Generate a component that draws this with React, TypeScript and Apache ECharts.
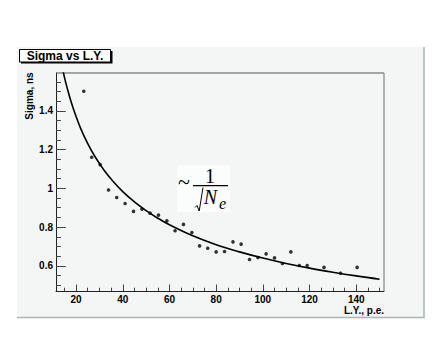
import React, { useEffect, useRef } from "react";
import * as echarts from "echarts";

// Measured points: light yield (p.e.) and sigma (ns)
const lightYield = [23.3, 26.7, 30.3, 33.9, 37.4, 41.0, 44.6, 48.2, 51.7, 55.3, 58.9, 62.4, 66.0, 69.6, 72.9, 76.4, 80.0, 83.6, 87.2, 90.7, 94.3, 97.9, 101.4, 105.0, 108.4, 112.0, 115.6, 119.0, 126.2, 133.3, 140.4];
const sigma = [1.502, 1.161, 1.123, 0.992, 0.953, 0.922, 0.881, 0.893, 0.872, 0.862, 0.832, 0.781, 0.814, 0.772, 0.703, 0.691, 0.672, 0.674, 0.724, 0.712, 0.633, 0.643, 0.662, 0.641, 0.612, 0.672, 0.602, 0.602, 0.592, 0.562, 0.592];

// Fit curve ~ 1/sqrt(Ne)
const fitX = [14, 15, 16, 18, 20, 22, 25, 28, 32, 36, 40, 45, 50, 55, 60, 70, 80, 90, 100, 110, 120, 130, 140, 150];
const fitY = [1.629, 1.575, 1.527, 1.442, 1.371, 1.309, 1.231, 1.166, 1.094, 1.034, 0.983, 0.93, 0.885, 0.846, 0.812, 0.755, 0.709, 0.672, 0.64, 0.612, 0.588, 0.567, 0.548, 0.531];

// Axis ranges and ticks
const X_MIN = 11.4;
const X_MAX = 151.9;
const Y_MIN = 0.47;
const Y_MAX = 1.596;
const xMajorTicks = [20, 40, 60, 80, 100, 120, 140];
const xMinorTicks = [15, 20, 25, 30, 35, 40, 45, 50, 55, 60, 65, 70, 75, 80, 85, 90, 95, 100, 105, 110, 115, 120, 125, 130, 135, 140, 145, 150];
const yMajorTicks = [0.6, 0.8, 1, 1.2, 1.4];
const yMinorTicks = [0.5, 0.55, 0.6, 0.65, 0.7, 0.75, 0.8, 0.85, 0.9, 0.95, 1, 1.05, 1.1, 1.15, 1.2, 1.25, 1.3, 1.35, 1.4, 1.45, 1.5, 1.55];

const TITLE = "Sigma vs L.Y.";
const Y_TITLE = "Sigma, ns";
const X_TITLE = "L.Y., p.e.";

const SANS = "'Liberation Sans', Arial, Helvetica, sans-serif";
const SERIF = "'Liberation Serif', 'Times New Roman', serif";

export default function App() {
  const ref = useRef<HTMLDivElement | null>(null);

  useEffect(() => {
    if (!ref.current) return;
    const chart = echarts.init(ref.current, undefined, { renderer: "svg" });

    const points = lightYield.map((x, i) => [x, sigma[i]]);
    const curve = fitX.map((x, i) => [x, fitY[i]]);

    const tickStyle = { color: "#444", width: 1 };
    const labelStyle = {
      color: "#000",
      fontWeight: "bold" as const,
      fontSize: 10,
      lineHeight: 10,
      fontFamily: SANS,
    };

    const option: any = {
      animation: false,
      backgroundColor: "#ffffff",
      grid: {
        left: 56,
        top: 73,
        width: 328,
        height: 218,
        containLabel: false,
        outerBoundsMode: "none",
      },
      xAxis: [
        {
          type: "value",
          min: X_MIN,
          max: X_MAX,
          position: "bottom",
          axisLine: { show: true, onZero: false, lineStyle: { color: "#222", width: 1 } },
          axisTick: { show: true, inside: true, length: 6.5, customValues: xMajorTicks, lineStyle: tickStyle },
          axisLabel: { show: true, customValues: xMajorTicks, margin: 3.5, formatter: (v: number) => String(v), ...labelStyle },
          splitLine: { show: false },
        },
        {
          type: "value",
          min: X_MIN,
          max: X_MAX,
          position: "bottom",
          axisLine: { show: false, onZero: false },
          axisTick: { show: true, inside: true, length: 3.3, customValues: xMinorTicks, lineStyle: tickStyle },
          axisLabel: { show: false },
          splitLine: { show: false },
        },
      ],
      yAxis: [
        {
          type: "value",
          min: Y_MIN,
          max: Y_MAX,
          position: "left",
          axisLine: { show: true, onZero: false, lineStyle: { color: "#222", width: 1 } },
          axisTick: { show: true, inside: true, length: 9.8, customValues: yMajorTicks, lineStyle: tickStyle },
          axisLabel: { show: true, customValues: yMajorTicks, margin: 3, formatter: (v: number) => String(v), ...labelStyle },
          splitLine: { show: false },
        },
        {
          type: "value",
          min: Y_MIN,
          max: Y_MAX,
          position: "left",
          axisLine: { show: false, onZero: false },
          axisTick: { show: true, inside: true, length: 4.9, customValues: yMinorTicks, lineStyle: tickStyle },
          axisLabel: { show: false },
          splitLine: { show: false },
        },
      ],
      series: [
        {
          type: "line",
          xAxisIndex: 0,
          yAxisIndex: 0,
          data: curve,
          smooth: 0.4,
          symbol: "none",
          clip: true,
          lineStyle: { color: "#000", width: 1.6 },
          z: 3,
        },
        {
          type: "scatter",
          xAxisIndex: 0,
          yAxisIndex: 0,
          data: points,
          symbol: "circle",
          symbolSize: 3.6,
          itemStyle: { color: "#000" },
          z: 4,
        },
      ],
      graphic: [
        // canvas panel
        {
          type: "rect",
          z: -100,
          shape: { x: 17, y: 47, width: 407, height: 271 },
          style: { fill: "#f4f6f6" },
        },
        {
          type: "line",
          z: -99,
          shape: { x1: 17, y1: 317.5, x2: 424.5, y2: 317.5 },
          style: { stroke: "#aab4b4", lineWidth: 1.5 },
        },
        {
          type: "line",
          z: -99,
          shape: { x1: 424, y1: 47, x2: 424, y2: 318 },
          style: { stroke: "#aab4b4", lineWidth: 1.5 },
        },
        // frame top and right
        {
          type: "line",
          z: 1,
          shape: { x1: 56, y1: 73, x2: 384, y2: 73 },
          style: { stroke: "#555", lineWidth: 1 },
        },
        {
          type: "line",
          z: 1,
          shape: { x1: 384, y1: 73, x2: 384, y2: 291 },
          style: { stroke: "#9a9a9a", lineWidth: 1.5 },
        },
        // title box with shadow
        {
          type: "rect",
          z: 10,
          shape: { x: 21, y: 51, width: 91.5, height: 12.5 },
          style: { fill: "#000" },
        },
        {
          type: "rect",
          z: 11,
          shape: { x: 19.5, y: 49.5, width: 91, height: 12.5 },
          style: { fill: "#fff", stroke: "#000", lineWidth: 1 },
        },
        {
          type: "text",
          z: 12,
          x: 65,
          y: 56,
          style: {
            text: TITLE,
            fill: "#000",
            fontSize: 12,
            lineHeight: 12,
            fontWeight: "bold",
            fontFamily: SANS,
            textAlign: "center",
            textVerticalAlign: "middle",
          },
        },
        // axis titles
        {
          type: "text",
          z: 12,
          x: 29,
          y: 96,
          rotation: Math.PI / 2,
          style: {
            text: Y_TITLE,
            fill: "#000",
            fontSize: 10,
            lineHeight: 10,
            fontWeight: "bold",
            fontFamily: SANS,
            textAlign: "center",
            textVerticalAlign: "middle",
          },
        },
        {
          type: "text",
          z: 12,
          x: 384,
          y: 310.5,
          style: {
            text: X_TITLE,
            fill: "#000",
            fontSize: 10,
            lineHeight: 10,
            fontWeight: "bold",
            fontFamily: SANS,
            textAlign: "right",
            textVerticalAlign: "middle",
          },
        },
        // formula ~ 1/sqrt(N_e)
        {
          type: "rect",
          z: 5,
          shape: { x: 177, y: 165, width: 53, height: 47 },
          style: { fill: "#fbfcfc" },
        },
        {
          type: "text",
          z: 6,
          x: 184,
          y: 181,
          style: {
            text: "~",
            fill: "#000",
            fontSize: 22,
            lineHeight: 12,
            fontFamily: SERIF,
            textAlign: "center",
            textVerticalAlign: "middle",
          },
        },
        {
          type: "text",
          z: 6,
          x: 210,
          y: 175.5,
          style: {
            text: "1",
            fill: "#000",
            fontSize: 20,
            lineHeight: 14,
            fontFamily: SERIF,
            textAlign: "center",
            textVerticalAlign: "middle",
          },
        },
        {
          type: "line",
          z: 6,
          shape: { x1: 193, y1: 185.7, x2: 228, y2: 185.7 },
          style: { stroke: "#000", lineWidth: 1.3 },
        },
        {
          type: "polyline",
          z: 6,
          shape: { points: [[195, 207.5], [197, 205.5], [199.2, 211], [203, 187.5]] },
          style: { stroke: "#000", lineWidth: 1, fill: "none" },
        },
        {
          type: "text",
          z: 6,
          x: 210.5,
          y: 196.5,
          style: {
            text: "N",
            fill: "#000",
            fontSize: 20,
            lineHeight: 14,
            fontStyle: "italic",
            fontFamily: SERIF,
            textAlign: "center",
            textVerticalAlign: "middle",
          },
        },
        {
          type: "text",
          z: 6,
          x: 222.5,
          y: 203.5,
          style: {
            text: "e",
            fill: "#000",
            fontSize: 16,
            lineHeight: 10,
            fontStyle: "italic",
            fontFamily: SERIF,
            textAlign: "center",
            textVerticalAlign: "middle",
          },
        },
      ],
    };

    chart.setOption(option);
    return () => {
      chart.dispose();
    };
  }, []);

  return (
    <div
      ref={ref}
      style={{ position: "fixed", left: 0, top: 0, width: 440, height: 340 }}
    />
  );
}
